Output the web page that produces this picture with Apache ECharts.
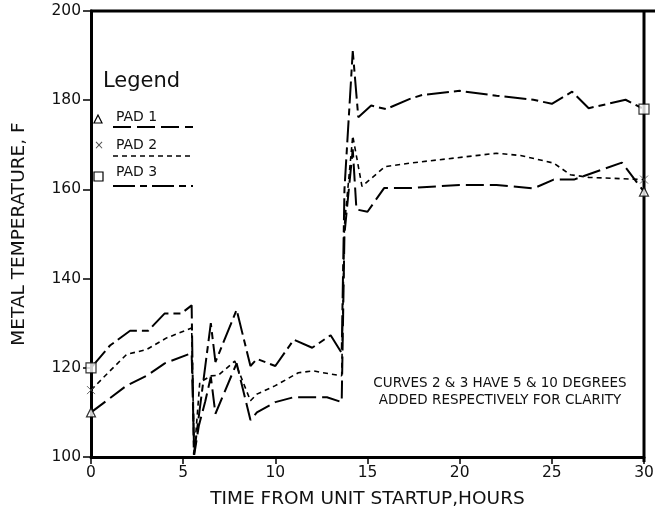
<!DOCTYPE html>
<html>
<head>
<meta charset="utf-8">
<script src="https://cdn.jsdelivr.net/npm/echarts@6/dist/echarts.min.js"></script>
<style>
  html, body { margin: 0; padding: 0; background: #fff; }
  #chart { width: 662px; height: 514px; }
</style>
</head>
<body>
<div id="chart"></div>
<script>
// pad temperatures (pad 2 +5 F, pad 3 +10 F as printed)
const pad1Hours = [0, 1.93, 3.02, 4, 5.46, 5.6, 5.85, 6.2, 6.5, 6.75, 7.9, 8.65, 9, 10, 11, 12.8, 13.6, 13.75, 14.2, 14.4, 15, 15.9, 17.3, 20, 22, 24, 25.1, 26.2, 28.8, 30]
const pad1Temps = [110, 116, 118.2, 121, 123.3, 100.5, 107, 112.5, 118, 109.7, 121, 108.3, 110, 112.3, 113.4, 113.4, 112.3, 150, 169, 155.5, 155, 160.3, 160.3, 161, 161, 160.2, 162.2, 162.2, 166, 159.5]

const pad2Hours = [0, 1.03, 1.93, 3.02, 4.1, 5.46, 5.6, 5.9, 6.5, 6.9, 7.8, 8.65, 9, 10, 11.25, 12.06, 13, 13.6, 13.75, 14.2, 14.7, 15.95, 17.3, 22, 23.3, 25.1, 26, 27, 30]
const pad2Temps = [115, 119.3, 123, 124.1, 126.7, 128.9, 100.5, 116.7, 118.2, 118.3, 121.5, 112.6, 114.1, 116, 118.9, 119.3, 118.6, 118.2, 152, 172, 160.7, 165.1, 165.9, 168.1, 167.6, 165.9, 163.3, 162.7, 162.2]

const pad3Hours = [0, 1.03, 2.12, 3.1, 4, 4.9, 5.46, 5.58, 6.5, 6.75, 7.9, 8.65, 9, 10, 11, 12, 13, 13.6, 13.75, 14.2, 14.5, 15.2, 16, 17.3, 18, 20, 22, 24, 25, 26.1, 27, 29, 30]
const pad3Temps = [120, 125, 128.3, 128.3, 132.2, 132.2, 134, 100.5, 130, 121.3, 133, 120.4, 122, 120.4, 126.3, 124.5, 127.3, 123.3, 160, 191, 176.2, 178.8, 178, 180.3, 181.2, 182.1, 181, 180.1, 179.2, 181.9, 178.2, 180.1, 178]

const xTicks = [0, 5, 10, 15, 20, 25, 30]
const yTicks = [100, 120, 140, 160, 180, 200]

const FONT = 'DejaVu Sans'
const dash1 = [18, 6]
const dash2 = [5, 4]
const dash3 = [22, 5, 7, 5]

function pairs (xs, ys) {
  return xs.map((x, i) => [x, ys[i]])
}
// end markers only at first and last reading
function ends (xs, ys) {
  return [[xs[0], ys[0]], [xs[xs.length - 1], ys[ys.length - 1]]]
}

const crossPath = 'path://M0,0L10,10M10,0L0,10'
const chart = echarts.init(document.getElementById('chart'))

const option = {
  animation: false,
  grid: { left: 91, top: 11, right: 18, bottom: 52 },
  xAxis: {
    type: 'value',
    min: xTicks[0],
    max: xTicks[xTicks.length - 1],
    interval: 5,
    name: 'TIME FROM UNIT STARTUP,HOURS',
    nameLocation: 'middle',
    nameGap: 33,
    nameTextStyle: { fontFamily: FONT, fontSize: 18.5, color: '#111' },
    axisLine: { lineStyle: { color: '#000', width: 3 } },
    axisTick: { inside: false, length: 7, lineStyle: { color: '#000', width: 1.5 } },
    axisLabel: { fontFamily: FONT, fontSize: 15.5, color: '#111', margin: 8 },
    splitLine: { show: false }
  },
  yAxis: {
    type: 'value',
    min: yTicks[0],
    max: yTicks[yTicks.length - 1],
    interval: 20,
    name: 'METAL TEMPERATURE, F',
    nameLocation: 'middle',
    nameGap: 62,
    nameTextStyle: { fontFamily: FONT, fontSize: 18.5, color: '#111' },
    axisLine: { show: true, lineStyle: { color: '#000', width: 3 } },
    axisTick: { show: true, inside: false, length: 8, lineStyle: { color: '#000', width: 1.5 } },
    axisLabel: { fontFamily: FONT, fontSize: 15.5, color: '#111', margin: 10 },
    splitLine: { show: false }
  },
  series: [
    {
      name: 'PAD 1',
      type: 'line',
      data: pairs(pad1Hours, pad1Temps),
      showSymbol: false,
      lineStyle: { color: '#000', width: 2, type: dash1 }
    },
    {
      name: 'PAD 2',
      type: 'line',
      data: pairs(pad2Hours, pad2Temps),
      showSymbol: false,
      lineStyle: { color: '#000', width: 1.6, type: dash2 }
    },
    {
      name: 'PAD 3',
      type: 'line',
      data: pairs(pad3Hours, pad3Temps),
      showSymbol: false,
      lineStyle: { color: '#000', width: 2, type: dash3 }
    },
    {
      type: 'scatter',
      data: ends(pad1Hours, pad1Temps),
      symbol: 'triangle',
      symbolSize: 9,
      itemStyle: { color: '#fff', borderColor: '#000', borderWidth: 1.2 },
      z: 5
    },
    {
      type: 'scatter',
      data: ends(pad2Hours, pad2Temps),
      symbol: crossPath,
      symbolSize: 8,
      itemStyle: { color: 'none', borderColor: '#444', borderWidth: 1 },
      z: 5
    },
    {
      type: 'scatter',
      data: ends(pad3Hours, pad3Temps),
      symbol: 'rect',
      symbolSize: 10,
      itemStyle: { color: '#fff', borderColor: '#000', borderWidth: 1.2 },
      z: 5
    }
  ],
  graphic: [
    // frame top and right
    { type: 'line', shape: { x1: 90, y1: 11, x2: 655, y2: 11 }, style: { stroke: '#000', lineWidth: 3 } },
    { type: 'line', shape: { x1: 644, y1: 11, x2: 644, y2: 462 }, style: { stroke: '#000', lineWidth: 3 } },
    // legend box
    { type: 'text', left: 103, top: 71, style: { text: 'Legend', font: '21px ' + FONT, fill: '#111' } },
    { type: 'polygon', shape: { points: [[98, 115], [94, 123], [102, 123]] }, style: { fill: '#fff', stroke: '#000', lineWidth: 1.2 } },
    { type: 'text', left: 116, top: 110, style: { text: 'PAD 1', font: '14px ' + FONT, fill: '#111' } },
    { type: 'line', shape: { x1: 113, y1: 127, x2: 193, y2: 127 }, style: { stroke: '#000', lineWidth: 2, lineDash: dash1 } },
    { type: 'text', left: 94, top: 140, style: { text: '×', font: '12px ' + FONT, fill: '#555' } },
    { type: 'text', left: 116, top: 138, style: { text: 'PAD 2', font: '14px ' + FONT, fill: '#111' } },
    { type: 'line', shape: { x1: 113, y1: 156, x2: 190, y2: 156 }, style: { stroke: '#000', lineWidth: 1.6, lineDash: dash2 } },
    { type: 'rect', shape: { x: 94, y: 172, width: 9, height: 9 }, style: { fill: '#fff', stroke: '#000', lineWidth: 1.2 } },
    { type: 'text', left: 116, top: 165, style: { text: 'PAD 3', font: '14px ' + FONT, fill: '#111' } },
    { type: 'line', shape: { x1: 113, y1: 186, x2: 193, y2: 186 }, style: { stroke: '#000', lineWidth: 2, lineDash: dash3 } },
    // note
    {
      type: 'text',
      x: 500,
      y: 375,
      style: {
        text: 'CURVES 2 & 3 HAVE 5 & 10 DEGREES\nADDED RESPECTIVELY FOR CLARITY',
        font: '13.5px ' + FONT,
        fill: '#111',
        align: 'center',
        lineHeight: 17
      }
    }
  ]
}

chart.setOption(option)
</script>
</body>
</html>
